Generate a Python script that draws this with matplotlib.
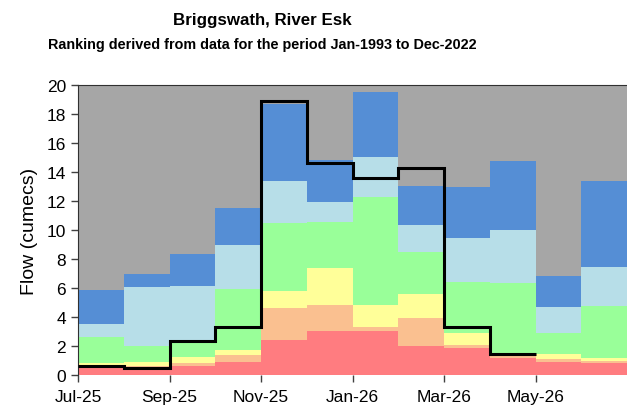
import numpy as np
import matplotlib
matplotlib.use("Agg")
import matplotlib.pyplot as plt

# =============================================================================
# Data (flow in cumecs)

months = ["Jul-25", "Aug-25", "Sep-25", "Oct-25", "Nov-25", "Dec-25",
          "Jan-26", "Feb-26", "Mar-26", "Apr-26", "May-26", "Jun-26"]

# upper edge of each ranking band, per month
red_top = [0.53, 0.46, 0.60, 0.87, 2.41, 3.01, 3.06, 2.02, 1.84, 1.15, 0.92, 0.83]
orange_top = [0.69, 0.60, 0.83, 1.38, 4.60, 4.83, 3.29, 3.91, 2.07, 1.29, 1.10, 0.99]
yellow_top = [0.83, 0.92, 1.22, 1.75, 5.79, 7.38, 4.83, 5.59, 2.90, 1.45, 1.43, 1.15]
green_top = [2.64, 2.02, 2.37, 5.93, 10.48, 10.53, 12.25, 8.51, 6.39, 6.34, 2.90, 4.78]
lightblue_top = [3.52, 6.05, 6.11, 8.97, 13.40, 11.90, 15.01, 10.37, 9.43, 10.00, 4.71, 7.47]
blue_top = [5.88, 6.97, 8.34, 11.50, 18.70, 14.83, 19.50, 13.06, 12.94, 14.78, 6.80, 13.40]

# observed monthly mean flow
observed = [0.65, 0.45, 2.35, 3.30, 18.9, 14.6, 13.6, 14.3, 3.30, 1.45]

tick_labels = ["Jul-25", "Sep-25", "Nov-25", "Jan-26", "Mar-26", "May-26"]

# =============================================================================
# Plot

plt.rcParams['font.family'] = ['Liberation Sans', 'DejaVu Sans']

fig = plt.figure(figsize=(6.27, 4.06), dpi=100)
ax = fig.add_axes([78/627, 30/406, 549/627, 290/406])

ymax = 20
edges = np.arange(len(months) + 1)

bands = [
    (np.zeros(len(months)), red_top, "#FF7C80"),
    (red_top, orange_top, "#FAC090"),
    (orange_top, yellow_top, "#FFFF99"),
    (yellow_top, green_top, "#99FF99"),
    (green_top, lightblue_top, "#B7DEE8"),
    (lightblue_top, blue_top, "#558ED5"),
    (blue_top, np.full(len(months), ymax), "#A6A6A6"),
]
for lo, hi, col in bands:
    ax.stairs(hi, edges, baseline=lo, fill=True, color=col, lw=0)

ax.stairs(observed, edges[:len(observed) + 1], baseline=None,
          color="black", lw=2.2, zorder=5)

ax.set_xlim(0, len(months))
ax.set_ylim(0, ymax)
ax.set_yticks(np.arange(0, 21, 2))
ax.set_xticks(edges[:-1:2])
ax.set_xticklabels(tick_labels)
ax.tick_params(direction="out", length=5, width=1, colors="#404040",
               labelcolor="black", labelsize=12.5)
ax.tick_params(axis="x", pad=5)
for s in ["left", "top", "bottom"]:
    ax.spines[s].set_color("#303030")
ax.spines["bottom"].set_visible(False)
ax.spines["right"].set_visible(False)
ax.set_ylabel("Flow (cumecs)", fontsize=14, labelpad=6)

fig.text(0.418, 0.95, "Briggswath, River Esk", ha="center", va="center",
         fontsize=12.2, fontweight="bold")
fig.text(0.418, 0.888, "Ranking derived from data for the period Jan-1993 to Dec-2022",
         ha="center", va="center", fontsize=10.4, fontweight="bold")

fig.savefig("out.png", dpi=100)
